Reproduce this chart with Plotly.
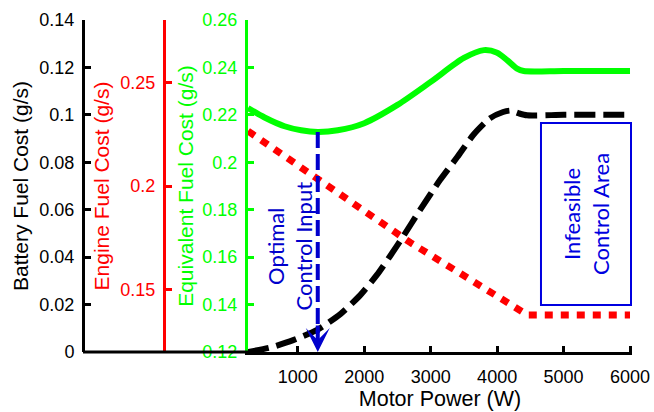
import plotly.graph_objects as go

# Motor power (W) and the three fuel-cost curves
power_battery = [250, 600, 930, 1290, 1640, 1940, 2190, 2390, 2580, 2840, 3140,
                 3400, 3640, 3890, 4090, 4200, 4330, 4450, 5000, 6000]
battery_cost = [0.0, 0.002, 0.005, 0.0093, 0.0160, 0.0240, 0.0325, 0.0405,
                0.0485, 0.0599, 0.0725, 0.0822, 0.0915, 0.0985, 0.1012, 0.1018,
                0.1006, 0.0998, 0.1, 0.1]

power_engine = [250, 1080, 2690, 4460, 6000]
engine_cost = [0.2265, 0.208, 0.1728, 0.1378, 0.1378]

power_equiv = [250, 500, 800, 1050, 1300, 1600, 2000, 2500, 3000, 3500, 3800,
               4000, 4150, 4300, 4400, 5000, 6000]
equiv_cost = [0.2229, 0.2189, 0.2152, 0.2135, 0.2128, 0.2135, 0.2165, 0.2242,
              0.2339, 0.2440, 0.2473, 0.2462, 0.2431, 0.2395, 0.2385, 0.2385,
              0.2385]

x_ticks = [1000, 2000, 3000, 4000, 5000, 6000]
engine_ticks = [0.15, 0.2, 0.25]

# Optimal operating point (minimum of the equivalent cost)
optimal_power = 1300
optimal_equiv = 0.2128

# Infeasible region box (power in W, battery-axis units)
infeasible_power = (4660, 6015)
infeasible_battery = (0.0198, 0.0966)

W, H = 654, 412
BLACK, RED, GREEN, BLUE = "#000000", "#FF0000", "#00FF00", "#0000CC"
AX_FONT = "Liberation Sans, Arial, sans-serif"
TXT_FONT = "Lato, Carlito, sans-serif"

x_left, x_right = 248 / W, 632 / W
y_bottom, y_top = 60 / H, 392 / H

fig = go.Figure()

fig.add_trace(go.Scatter(
    x=power_engine, y=engine_cost, yaxis="y2", mode="lines",
    line=dict(color=RED, width=7, dash="8px,8px"), hoverinfo="skip"))
fig.add_trace(go.Scatter(
    x=power_equiv, y=equiv_cost, yaxis="y3", mode="lines",
    line=dict(color=GREEN, width=6, shape="spline", smoothing=0.8),
    hoverinfo="skip"))
fig.add_trace(go.Scatter(
    x=power_battery, y=battery_cost, yaxis="y", mode="lines",
    line=dict(color=BLACK, width=6, dash="21px,8px", shape="spline",
              smoothing=0.6),
    hoverinfo="skip"))
# Dashed shaft dropping from the optimum to the power axis
fig.add_trace(go.Scatter(
    x=[optimal_power, optimal_power], y=[optimal_equiv, 0.128], yaxis="y3",
    mode="lines", line=dict(color=BLUE, width=4, dash="16px,6px"),
    hoverinfo="skip"))

tick_common = dict(ticks="inside", ticklen=6, tickwidth=2.5, showgrid=False,
                   zeroline=False, showline=True, linewidth=3,
                   automargin=False)

fig.update_layout(
    width=W, height=H,
    margin=dict(l=0, r=0, t=0, b=0),
    paper_bgcolor="white", plot_bgcolor="white",
    showlegend=False,
    xaxis=dict(
        domain=[x_left, x_right], range=[250, 6030],
        tickvals=x_ticks, tickformat="d",
        tickfont=dict(family=AX_FONT, size=18, color=BLACK),
        linecolor=BLACK, tickcolor=BLACK, anchor="y",
        ticklabelstandoff=6,
        title=dict(text="Motor Power (W)",
                   font=dict(family=AX_FONT, size=21.5, color=BLACK),
                   standoff=6),
        **tick_common),
    yaxis=dict(
        domain=[y_bottom, y_top], range=[0, 0.14], dtick=0.02,
        anchor="free", position=83 / W,
        tickfont=dict(family=AX_FONT, size=18, color=BLACK),
        linecolor=BLACK, tickcolor=BLACK, ticklabelstandoff=4,
        title=dict(text="Battery Fuel Cost (g/s)",
                   font=dict(family=AX_FONT, size=21, color=BLACK),
                   standoff=4),
        **tick_common),
    yaxis2=dict(
        domain=[y_bottom, y_top], range=[0.12, 0.28], tickvals=engine_ticks,
        anchor="free", position=164 / W, overlaying="y",
        tickfont=dict(family=AX_FONT, size=18, color=RED),
        linecolor=RED, tickcolor=RED, ticklabelstandoff=4,
        title=dict(text="Engine Fuel Cost (g/s)",
                   font=dict(family=AX_FONT, size=21, color=RED),
                   standoff=4),
        **tick_common),
    yaxis3=dict(
        domain=[y_bottom, y_top], range=[0.12, 0.26], dtick=0.02,
        anchor="x", overlaying="y",
        tickfont=dict(family=AX_FONT, size=18, color=GREEN),
        linecolor=GREEN, tickcolor=GREEN, ticklabelstandoff=4,
        title=dict(text="Equivalent Fuel Cost (g/s)",
                   font=dict(family=AX_FONT, size=21, color=GREEN),
                   standoff=4),
        **tick_common),
)

# Power axis line continues left under the offset cost axes
fig.add_shape(type="line", xref="paper", yref="paper",
              x0=83 / W, x1=x_left, y0=y_bottom, y1=y_bottom,
              line=dict(color=BLACK, width=3))

# Infeasible control region
fig.add_shape(type="rect", xref="x", yref="y",
              x0=infeasible_power[0], x1=infeasible_power[1],
              y0=infeasible_battery[0], y1=infeasible_battery[1],
              line=dict(color="#0000E0", width=2), fillcolor="rgba(0,0,0,0)")

fig.add_annotation(
    x=sum(infeasible_power) / 2, y=sum(infeasible_battery) / 2,
    xref="x", yref="y", text="Infeasible<br>Control Area", textangle=-90,
    showarrow=False, font=dict(family=TXT_FONT, size=22, color="#0000E0"))

fig.add_annotation(
    x=875, y=0.0447, xref="x", yref="y", text="Optimal<br>Control Input",
    textangle=-90, showarrow=False,
    font=dict(family=TXT_FONT, size=22, color=BLUE))

# Arrow head landing on the power axis at the optimum
fig.add_annotation(
    x=optimal_power, y=0, xref="x", yref="y", text="", showarrow=True,
    ax=0, ay=-28, axref="pixel", ayref="pixel",
    arrowhead=3, arrowsize=1, arrowwidth=4, arrowcolor=BLUE, standoff=0)

fig.write_html("out.html")
